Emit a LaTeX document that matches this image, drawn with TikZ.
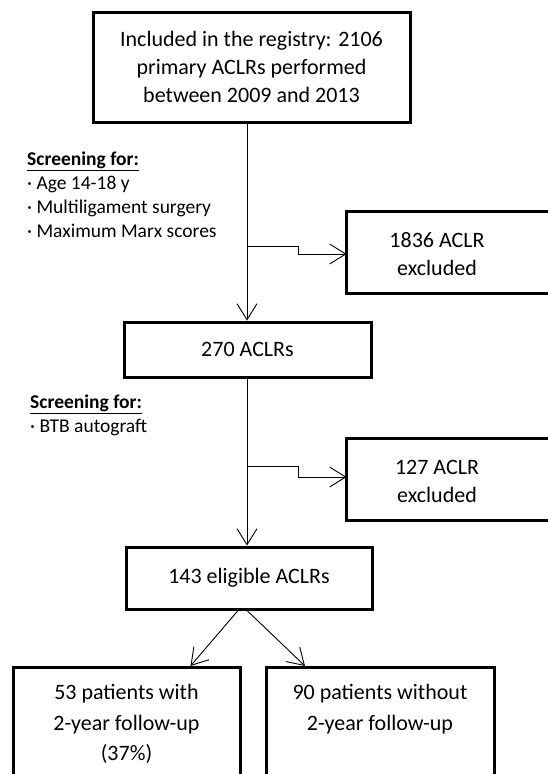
\documentclass[tikz,border=0pt]{standalone}
\usepackage{fontspec}
\setmainfont{Carlito}
\usetikzlibrary{arrows.meta, calc, positioning}

\begin{document}
\begin{tikzpicture}[x=1pt, y=-1pt, >={Straight Barb[length=16pt,width=20pt]},
    box/.style={draw, line width=3pt, align=center, inner sep=0pt, font=\fontsize{22}{28}\selectfont},
    exbox/.style={box, draw=none, minimum width=178, minimum height=82},
    note/.style={anchor=north west, align=left, inner sep=0pt, font=\fontsize{19.5}{24}\selectfont},
    link/.style={->, line width=0.9pt}]

        \useasboundingbox (0,0) rectangle (548,774);

        % Draw the registry box and the first screening

        \node[box, minimum width=317, minimum height=110] (incl) at (251.5,67) {Included in the registry: 2106\\primary ACLRs performed\\between 2009 and 2013};
        \node[note] (screen1) at (27,152) {\underline{\textbf{Screening for:}}\\· Age 14-18 y\\· Multiligament surgery\\· Maximum Marx scores};

        \node[exbox] (excl1) at (437,254) {1836 ACLR\\excluded};
        \draw[line width=3pt] (excl1.north west) rectangle ++(240,82);

        % Draw the 270 box and the second screening

        \node[box, minimum width=247, minimum height=55] (aclr270) at (247.5,349.5) {270 ACLRs};
        \node[note] (screen2) at (30,395) {\underline{\textbf{Screening for:}}\\· BTB autograft};

        \node[exbox] (excl2) at (437,481) {127 ACLR\\excluded};
        \draw[line width=3pt] (excl2.north west) rectangle ++(240,82);

        % Draw the eligible box and the two groups

        \node[box, minimum width=246, minimum height=62] (aclr143) at (249,578) {143 eligible ACLRs};

        \node[box, font=\fontsize{22}{30.5}\selectfont, minimum width=227, minimum height=113, anchor=north] (fu) at (126.5,666) {53 patients with\\2-year follow-up\\(37\%)};
        \node[box, font=\fontsize{22}{30.5}\selectfont, minimum width=228, minimum height=113, anchor=north] (nofu) at (380,666) {90 patients without\\2-year follow-up\\\vphantom{(37\%)}};

        % Arrows connecting the boxes

        \coordinate (split1) at (247,246);
        \coordinate (split2) at (247,466);

        \draw[link] (incl.south -| split1) -- (split1 |- aclr270.north);
        \draw[link] (split1) -- ++(51,0) |- (excl1.west);

        \draw[link] (split2 |- aclr270.south) -- (split2 |- aclr143.north);
        \draw[link] (split2) -- ++(51,0) |- ([yshift=4pt]excl2.west);

        \draw[link] ([xshift=-11pt]aclr143.south) -- ([xshift=64pt]fu.north);
        \draw[link] ([xshift=-2pt]aclr143.south) -- ([xshift=-75pt]nofu.north);
    \end{tikzpicture}
\end{document}
